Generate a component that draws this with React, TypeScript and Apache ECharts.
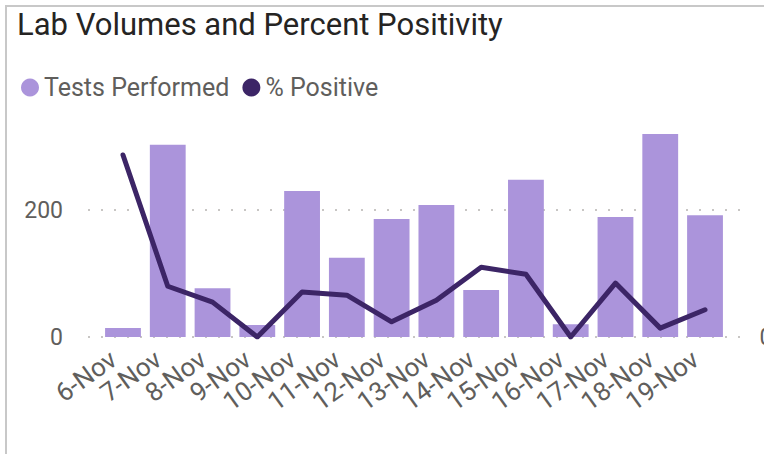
import React, { useEffect, useRef } from 'react';
import * as echarts from 'echarts';

const categories = ['6-Nov', '7-Nov', '8-Nov', '9-Nov', '10-Nov', '11-Nov', '12-Nov', '13-Nov', '14-Nov', '15-Nov', '16-Nov', '17-Nov', '18-Nov', '19-Nov'];
const testsPerformed = [14, 303, 77, 19, 230, 125, 186, 208, 74, 248, 20, 189, 320, 192];
const percentPositive = [28.7, 8.0, 5.5, 0, 7.1, 6.6, 2.4, 5.8, 11.0, 9.9, 0, 8.5, 1.4, 4.3];
const seriesNames = ['Tests Performed', '% Positive'];
const titleText = 'Lab Volumes and Percent Positivity';

const FONT = 'Roboto, "Noto Sans", sans-serif';

export default function App() {
  const ref = useRef<HTMLDivElement>(null);
  useEffect(() => {
    document.body.style.margin = '0';
    const chart = echarts.init(ref.current!, undefined, { renderer: 'svg' });
    chart.setOption({
      animation: false,
      textStyle: { fontFamily: FONT },
      title: {
        text: titleText,
        left: 12,
        top: 4,
        textStyle: { fontSize: 31, fontWeight: 'normal', color: '#252423', fontFamily: FONT },
      },
      legend: {
        data: seriesNames,
        left: 16,
        top: 70,
        icon: 'circle',
        itemWidth: 18,
        itemHeight: 18,
        itemGap: 13,
        textStyle: { fontSize: 25, color: '#605e5c', fontFamily: FONT },
      },
      grid: [
        { left: 88, right: 24, top: 115, bottom: 117, outerBoundsMode: 'none' },
        { left: 100.6, right: 36.6, top: 115, bottom: 117, outerBoundsMode: 'none' },
      ],
      xAxis: [
        { gridIndex: 0, type: 'category', data: categories, show: false },
        {
          gridIndex: 1,
          type: 'category',
          data: categories,
          axisLine: { show: false },
          axisTick: { show: false },
          axisLabel: {
            rotate: 36,
            fontSize: 26,
            color: '#605e5c',
            margin: 12,
            padding: [0, 12, 0, 0],
            interval: 0,
            fontFamily: FONT,
          },
        },
      ],
      yAxis: [
        {
          gridIndex: 0,
          type: 'value',
          min: 0,
          max: 350,
          interval: 200,
          axisLine: { show: false },
          axisTick: { show: false },
          axisLabel: { fontSize: 23, color: '#605e5c', margin: 25, showMaxLabel: false, fontFamily: FONT },
          splitLine: { show: true, showMaxLine: false, lineStyle: { type: [2, 11], color: '#c8c6c4', width: 2 } },
        },
        { gridIndex: 1, type: 'value', min: 0, max: 350, show: false },
        {
          gridIndex: 1,
          type: 'value',
          position: 'right',
          min: 0,
          max: 35,
          axisLine: { show: false },
          axisTick: { show: false },
          splitLine: { show: false },
          axisLabel: {
            fontSize: 23,
            color: '#605e5c',
            margin: 32,
            fontFamily: FONT,
            formatter: (v: number) => (v === 0 ? '0%' : ''),
          },
        },
      ],
      series: [
        {
          name: seriesNames[0],
          type: 'bar',
          xAxisIndex: 1,
          yAxisIndex: 1,
          data: testsPerformed,
          barWidth: '80%',
          itemStyle: { color: '#ab94db' },
        },
        {
          name: seriesNames[1],
          type: 'line',
          xAxisIndex: 1,
          yAxisIndex: 2,
          data: percentPositive,
          symbol: 'none',
          itemStyle: { color: '#3c2566' },
          lineStyle: { color: '#3c2566', width: 5, cap: 'round', join: 'round' },
        },
      ],
    });
    return () => chart.dispose();
  }, []);
  return (
    <div style={{ position: 'relative', width: 764, height: 454, overflow: 'hidden', background: '#fff' }}>
      <div ref={ref} style={{ position: 'absolute', left: 0, top: 0, width: 764, height: 454 }} />
      <div
        style={{
          position: 'absolute',
          left: 5,
          top: 5,
          width: 800,
          height: 500,
          borderTop: '2px solid #c8c8c8',
          borderLeft: '2px solid #c8c8c8',
          pointerEvents: 'none',
        }}
      />
    </div>
  );
}
